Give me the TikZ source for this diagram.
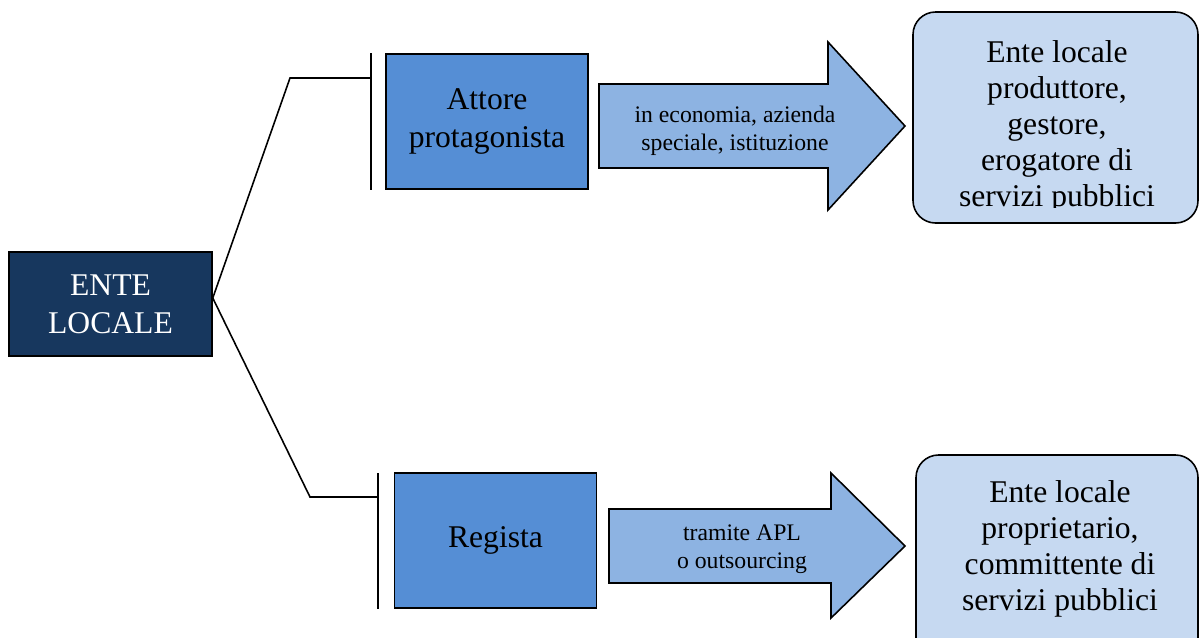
\documentclass[tikz,border=0pt]{standalone}
\usepackage{fontspec}
\setmainfont{Liberation Serif}
\definecolor{navy}{HTML}{17375E}
\definecolor{midblue}{HTML}{558ED5}
\definecolor{arrowblue}{HTML}{8DB3E2}
\definecolor{paleblue}{HTML}{C6D9F1}
\begin{document}
\begin{tikzpicture}[x=0.02cm, y=-0.02cm,
    bigtext/.style={font=\fontsize{18}{21.5}\selectfont, align=center},
    resulttext/.style={font=\fontsize{18}{20.5}\selectfont, align=center},
    smalltext/.style={font=\fontsize{13.5}{16}\selectfont, align=center},
    rootbox/.style={draw, line width=0.9pt, fill=navy, text=white, bigtext,
        minimum width=4.06cm, minimum height=2.08cm},
    rolebox/.style={draw, line width=0.9pt, fill=midblue, bigtext,
        minimum width=4.04cm, minimum height=2.7cm},
    fatarrow/.style={draw, line width=0.9pt, fill=arrowblue},
    resultbox/.style={draw, line width=0.9pt, fill=paleblue, rounded corners=0.45cm},
    bracket/.style={line width=1.1pt},
    link/.style={line width=0.9pt}]
    \useasboundingbox (0,0) rectangle (1202,637);

    % boxes
    \node[rootbox] (ente) at (110.5,304) {ENTE\\LOCALE};
    \node[rolebox] (attore) at (487,121.5) {Attore\\protagonista};
    \node[rolebox] (regista) at (495.5,540.5) {Regista};

    % brackets
    \coordinate (topbar) at (371,78);
    \coordinate (lowbar) at (378,497);
    \draw[bracket] (371,53) -- (371,190);
    \draw[bracket] (378,473) -- (378,609);
    \draw[link] ([yshift=0.12cm]ente.east) -- (290,78) -- (topbar);
    \draw[link] ([yshift=0.12cm]ente.east) -- (310,497) -- (lowbar);

    % arrows
    \draw[fatarrow] (599,84) -- (828,84) -- (828,42) -- (905,126)
        -- (828,210) -- (828,168) -- (599,168) -- cycle;
    \node[smalltext] (modi) at (735,131) {in economia, azienda\\speciale, istituzione};
    \draw[fatarrow] (609,509) -- (831,509) -- (831,473) -- (905,546)
        -- (831,618) -- (831,583) -- (609,583) -- cycle;
    \node[smalltext] (tramite) at (742,549) {tramite APL\\o outsourcing};

    % results
    \draw[resultbox] (913,12) rectangle (1198,223);
    \begin{scope}
        \clip (913,12) rectangle (1198,207);
        \node[resulttext] (produttore) at (1057,127)
            {Ente locale\\produttore,\\gestore,\\erogatore di\\servizi pubblici};
    \end{scope}
    \draw[resultbox] (916,455) rectangle (1198,660);
    \node[resulttext] (proprietario) at (1060,549)
        {Ente locale\\proprietario,\\committente di\\servizi pubblici};
\end{tikzpicture}
\end{document}
